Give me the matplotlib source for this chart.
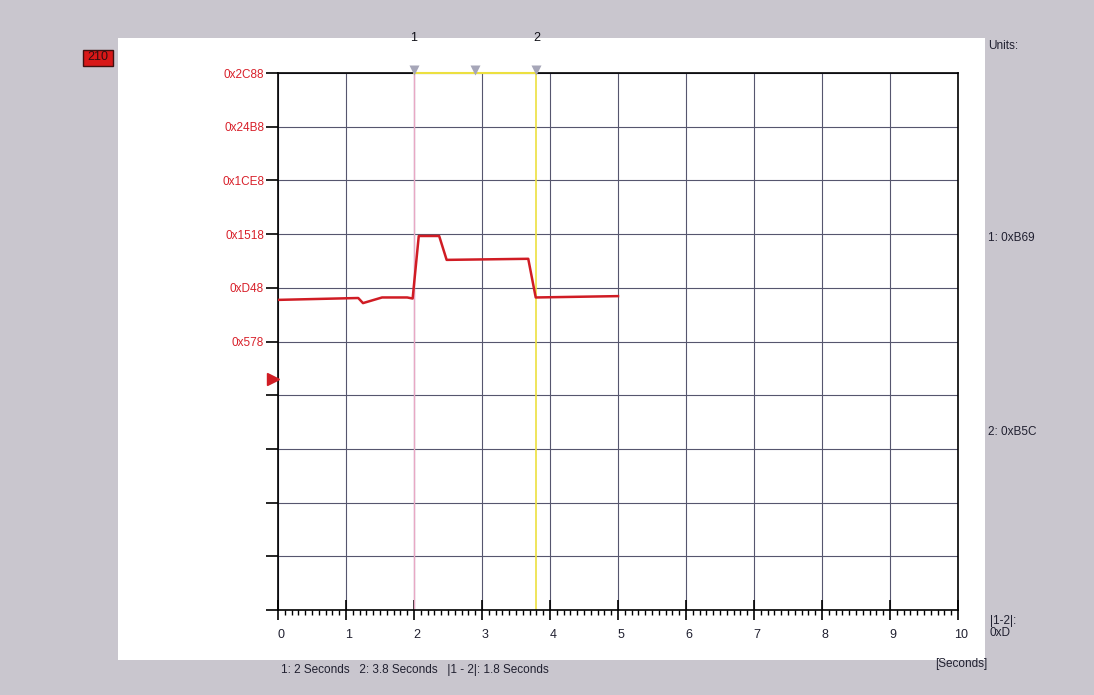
import matplotlib
matplotlib.use("Agg")
import matplotlib.pyplot as plt
import matplotlib.transforms as mtransforms
from matplotlib.patches import Rectangle
from matplotlib.ticker import MultipleLocator, FixedLocator

# Signal trace (time in seconds, raw value)
time_s = [0.0, 1.18, 1.25, 1.53, 1.90, 1.98, 2.07, 2.37, 2.48, 3.68, 3.79, 5.0]
raw_val = [2950, 3020, 2830, 3040, 3040, 3000, 5330, 5330, 4440, 4480, 3040, 3090]

# Axis scales
y_ticks = [11400, 9400, 7400, 5400, 3400, 1400, -600, -2600, -4600, -6600, -8600]
y_labeled_min = 1400
x_ticks = [0, 1, 2, 3, 4, 5, 6, 7, 8, 9, 10]

# Cursors
cursor1 = 2.0
cursor2 = 3.8
zero_level = 0

W, H = 1094, 695
plt.rcParams["font.family"] = ["Liberation Sans", "DejaVu Sans"]
fig = plt.figure(figsize=(W / 100, H / 100), dpi=100)
fig.patch.set_facecolor("#c9c6ce")


def fx(px):
    return px / W


def fy(py):
    return 1 - py / H


# White panel behind the plot
fig.patches.append(Rectangle((fx(118), fy(660)), fx(985 - 118), (660 - 38) / H,
                             transform=fig.transFigure, facecolor="white",
                             edgecolor="none", zorder=-5))

ax = fig.add_axes([fx(278), fy(610), fx(958 - 278), (610 - 73) / H])
ax.set_zorder(2)
ax.set_facecolor("white")
ax.set_xlim(0, 10)
ax.set_ylim(-8600, 11400)

grid_c = "#56566e"
ax.xaxis.set_major_locator(FixedLocator(x_ticks))
ax.xaxis.set_minor_locator(MultipleLocator(0.1))
ax.yaxis.set_major_locator(FixedLocator(y_ticks))
ax.grid(True, which="major", color=grid_c, linewidth=0.8)
ax.set_axisbelow(True)

ax.set_yticklabels([f"0x{v:X}" if v >= y_labeled_min else "" for v in y_ticks],
                   color="#d8202a", fontsize=8.5)
ax.set_xticklabels([str(v) for v in x_ticks], color="#202030", fontsize=9)
ax.tick_params(axis="y", which="major", direction="out", length=9, width=1.2,
               color="black", pad=1)
ax.tick_params(axis="x", which="major", direction="inout", length=14, width=1.2,
               color="black", pad=7)
ax.tick_params(axis="x", which="minor", direction="out", length=3.5, width=1.0,
               color="black")
shift = mtransforms.ScaledTranslation(3 / 100, 0, fig.dpi_scale_trans)
for lab in ax.get_xticklabels():
    lab.set_transform(lab.get_transform() + shift)
for s in ax.spines.values():
    s.set_color("black")
    s.set_linewidth(1.2)

# Cursor lines and the span between them
ax.axvline(cursor1, color="#e8a8c4", linewidth=1.0, zorder=2)
ax.axvline(cursor2, color="#ece040", linewidth=1.2, zorder=2)
ax.plot([cursor1, cursor2], [11400, 11400], color="#ece040", linewidth=1.5,
        clip_on=False, zorder=4)

# Trace
ax.plot(time_s, raw_val, color="#d01c24", linewidth=1.8, zorder=5)

# Cursor handles above the plot
for t in (cursor1, (cursor1 + cursor2) / 2, cursor2):
    ax.plot(t, 11400 + 120, marker="v", markersize=7, color="#a6a6b8",
            markeredgecolor="none", clip_on=False, zorder=6)
for t, lbl in ((cursor1, "1"), (cursor2, "2")):
    ax.annotate(lbl, xy=(t, 1), xycoords=("data", "axes fraction"),
                xytext=(0, 21), textcoords="offset points", ha="center",
                va="bottom", fontsize=9, color="#101018")

# Zero-level marker on the left edge
ax.plot(-0.07, zero_level, marker=">", markersize=8, color="#d01c24",
        clip_on=False, zorder=6)

# Channel tag
fig.patches.append(Rectangle((fx(83), fy(66)), fx(30), 16 / H,
                             transform=fig.transFigure, facecolor="#d81818",
                             edgecolor="#401010", linewidth=1.0, zorder=3))
fig.text(fx(98), fy(57), "210", ha="center", va="center", fontsize=9,
         color="#301010", zorder=4)

# Right-hand readouts
txt_c = "#202030"
fig.text(fx(988), fy(46), "Units:", fontsize=8.5, color=txt_c, va="center")
fig.text(fx(988), fy(238), "1: 0xB69", fontsize=8.5, color=txt_c, va="center")
fig.text(fx(988), fy(432), "2: 0xB5C", fontsize=8.5, color=txt_c, va="center")
fig.text(fx(990), fy(627), "|1-2|:\n0xD", fontsize=8.5, color=txt_c, va="center",
         linespacing=1.1)
fig.text(fx(961), fy(664), "[Seconds]", fontsize=8.5, color=txt_c, va="center",
         ha="center")
fig.text(fx(281), fy(670), "1: 2 Seconds   2: 3.8 Seconds   |1 - 2|: 1.8 Seconds",
         fontsize=8.5, color=txt_c, va="center")

fig.savefig("out.png", dpi=100, facecolor=fig.get_facecolor())
